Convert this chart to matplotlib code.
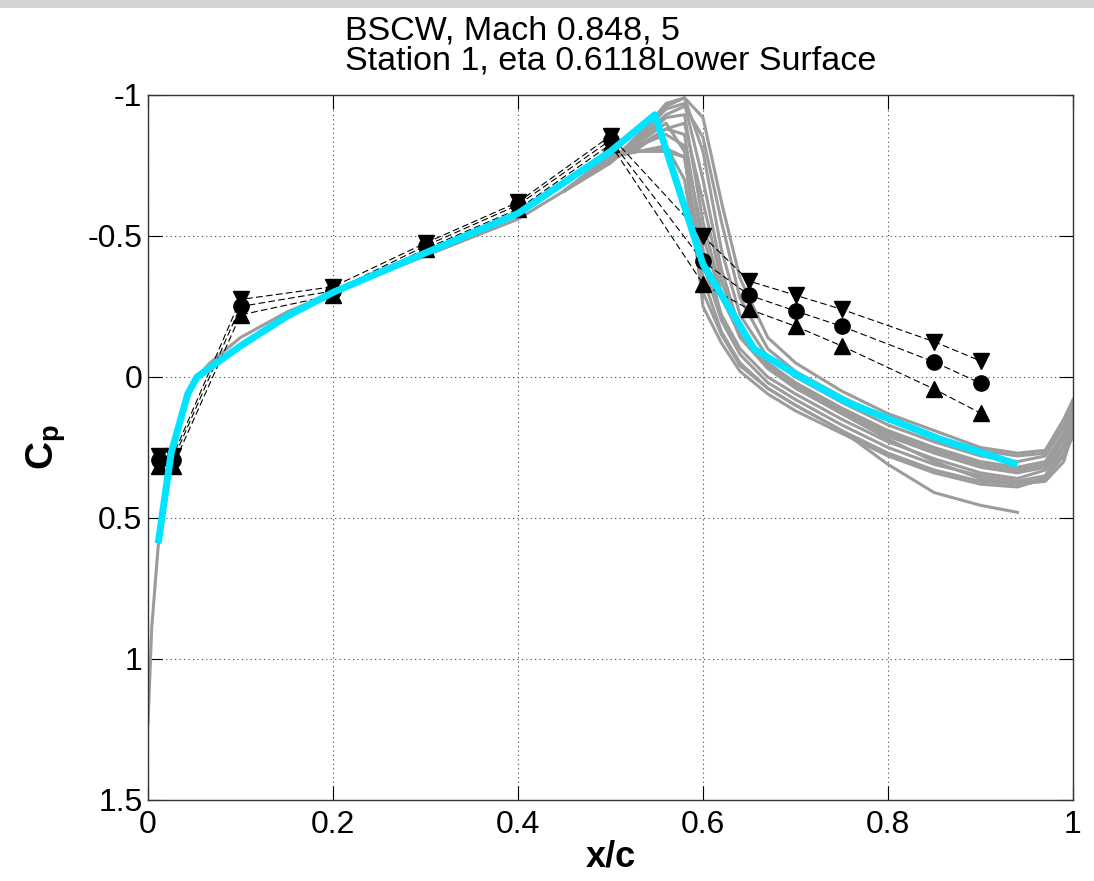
import numpy as np
import matplotlib
matplotlib.use('Agg')
from matplotlib import pyplot as plt
from matplotlib.patches import Rectangle
from matplotlib.ticker import FuncFormatter

plt.rcParams['font.family'] = ['Liberation Sans', 'DejaVu Sans']
plt.rcParams['axes.unicode_minus'] = False
plt.rcParams['mathtext.fontset'] = 'custom'
plt.rcParams['mathtext.rm'] = 'Liberation Sans'
plt.rcParams['mathtext.bf'] = 'Liberation Sans:bold'

# experiment stations (x/c) and Cp: upper bound, mean, lower bound
exp_x = [0.012, 0.027, 0.1, 0.2, 0.3, 0.4, 0.5, 0.6, 0.65, 0.7, 0.75, 0.85, 0.9]
exp_cp_max = [0.28, 0.28, -0.275, -0.32, -0.475, -0.62, -0.855, -0.50, -0.34, -0.29, -0.24, -0.125, -0.057]
exp_cp_mean = [0.295, 0.295, -0.25, -0.305, -0.465, -0.61, -0.84, -0.41, -0.29, -0.234, -0.18, -0.053, 0.022]
exp_cp_min = [0.315, 0.315, -0.22, -0.29, -0.455, -0.595, -0.825, -0.33, -0.24, -0.18, -0.11, 0.043, 0.128]

# mean computation (cyan)
mean_x = [0.011, 0.025, 0.043, 0.053, 0.1, 0.15, 0.2, 0.3, 0.4, 0.5, 0.548, 0.6, 0.655, 0.7, 0.756, 0.856, 0.94]
mean_cp = [0.59, 0.27, 0.06, 0.0, -0.11, -0.215, -0.30, -0.44, -0.58, -0.80, -0.93, -0.40, -0.10, -0.01, 0.09, 0.22, 0.31]

# unsteady snapshots (grey): common leading part, then individual aft parts
front_x = [0.0, 0.004, 0.011, 0.02, 0.03, 0.04, 0.05, 0.067, 0.1, 0.15, 0.2, 0.3, 0.4, 0.45]
front_cp = [1.23, 0.89, 0.60, 0.38, 0.22, 0.10, 0.01, -0.05, -0.14, -0.23, -0.30, -0.43, -0.56, -0.66]

aft_x = [0.45, 0.5, 0.53, 0.56, 0.58, 0.6, 0.62, 0.64, 0.67, 0.7, 0.75, 0.8, 0.85, 0.9, 0.94, 0.97, 0.99, 1.0]
aft_cp = [
    [-0.66, -0.76, -0.86, -0.96, -0.99, -0.80, -0.45, -0.22, -0.07, 0.00, 0.09, 0.17, 0.23, 0.28, 0.30, 0.28, 0.18, 0.09],
    [-0.66, -0.76, -0.85, -0.95, -0.97, -0.70, -0.38, -0.17, -0.05, 0.02, 0.11, 0.19, 0.25, 0.30, 0.32, 0.30, 0.20, 0.12],
    [-0.66, -0.77, -0.83, -0.92, -0.93, -0.55, -0.30, -0.14, -0.03, 0.04, 0.13, 0.21, 0.27, 0.32, 0.34, 0.32, 0.22, 0.14],
    [-0.66, -0.78, -0.81, -0.88, -0.86, -0.45, -0.22, -0.10, 0.00, 0.06, 0.15, 0.23, 0.29, 0.34, 0.36, 0.33, 0.24, 0.16],
    [-0.66, -0.79, -0.80, -0.80, -0.78, -0.40, -0.20, -0.08, 0.02, 0.08, 0.17, 0.25, 0.31, 0.35, 0.37, 0.35, 0.25, 0.18],
    [-0.66, -0.78, -0.80, -0.82, -0.70, -0.30, -0.15, -0.04, 0.04, 0.10, 0.19, 0.27, 0.33, 0.37, 0.38, 0.36, 0.27, 0.20],
    [-0.66, -0.77, -0.83, -0.90, -0.80, -0.25, -0.12, -0.02, 0.06, 0.12, 0.20, 0.28, 0.34, 0.38, 0.39, 0.36, 0.28, 0.21],
    [-0.66, -0.76, -0.84, -0.93, -0.96, -0.85, -0.55, -0.28, -0.10, -0.02, 0.07, 0.15, 0.21, 0.26, 0.28, 0.27, 0.17, 0.10],
    [-0.66, -0.76, -0.85, -0.97, -0.99, -0.92, -0.62, -0.35, -0.14, -0.05, 0.05, 0.13, 0.19, 0.25, 0.27, 0.26, 0.15, 0.08],
    [-0.66, -0.78, -0.82, -0.86, -0.82, -0.50, -0.28, -0.15, -0.04, 0.03, 0.12, 0.20, 0.26, 0.31, 0.33, 0.31, 0.21, 0.13],
    [-0.66, -0.78, -0.80, -0.81, -0.78, -0.35, -0.16, -0.05, 0.04, 0.10, 0.19, 0.31, 0.41, 0.455, 0.48, np.nan, np.nan, np.nan],
    [-0.66, -0.77, -0.82, -0.88, -0.90, -0.62, -0.34, -0.17, -0.05, 0.03, 0.13, 0.22, 0.30, 0.36, 0.38, 0.37, 0.30, 0.19],
]

grey = '#9c9c9c'
cyan = '#00e5ff'

fig = plt.figure(figsize=(10.94, 8.81), dpi=100)
fig.patches.append(Rectangle((0, 1 - 8 / 881), 1, 8 / 881, transform=fig.transFigure,
                             facecolor='#d4d4d4', edgecolor='none'))
ax = fig.add_axes([148 / 1094, 1 - 800 / 881, 925 / 1094, 705 / 881])

ax.plot(front_x, front_cp, color=grey, lw=2.2, zorder=2)
for cp in aft_cp:
    ax.plot(aft_x, cp, color=grey, lw=2.2, zorder=2)

dash = (0, (6, 3))
for cp, m in [(exp_cp_max, 'v'), (exp_cp_mean, 'o'), (exp_cp_min, '^')]:
    ax.plot(exp_x, cp, color='black', lw=0.8, linestyle=dash, zorder=3)
    ax.plot(exp_x, cp, color='black', linestyle='none', marker=m, markersize=11, zorder=4)

ax.plot(mean_x, mean_cp, color=cyan, lw=5, solid_capstyle='butt', zorder=5)

ax.set_xlim(0, 1)
ax.set_ylim(1.5, -1)
ax.set_xticks(np.arange(0, 1.01, 0.2))
ax.set_yticks([-1, -0.5, 0, 0.5, 1, 1.5])
ax.xaxis.set_major_formatter(FuncFormatter(lambda v, p: f'{v:g}'))
ax.yaxis.set_major_formatter(FuncFormatter(lambda v, p: f'{v:g}'))
ax.tick_params(direction='in', length=10, width=0.8, top=True, right=True, labelsize=23)
ax.tick_params(axis='x', pad=7)
ax.tick_params(axis='y', pad=4)
ax.grid(True, linestyle=(0, (1, 3)), color='#444444', lw=0.8)
for s in ax.spines.values():
    s.set_color('#333333')
    s.set_linewidth(1.0)

ax.set_xlabel('x/c', fontsize=26, fontweight='bold', labelpad=0)
ax.set_ylabel(r'$\mathbf{C_p}$', fontsize=28, labelpad=14)
ax.set_title('BSCW, Mach 0.848, 5\nStation 1, eta 0.6118Lower Surface',
             fontsize=24.5, multialignment='left', linespacing=1.0, pad=18)

fig.savefig('out.png', dpi=100)
